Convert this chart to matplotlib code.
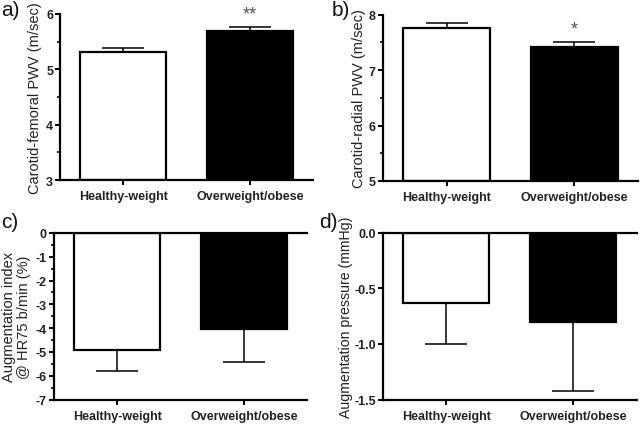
import matplotlib
matplotlib.use("Agg")
import matplotlib.pyplot as plt
from matplotlib.ticker import MultipleLocator

plt.rcParams['font.family'] = ['Liberation Sans', 'DejaVu Sans']

categories = ["Healthy-weight", "Overweight/obese"]

cf_pwv = [5.32, 5.685]
cf_err = [0.065, 0.08]

cr_pwv = [7.77, 7.42]
cr_err = [0.09, 0.09]

aix = [-4.9, -4.03]
aix_err = [0.91, 1.38]

ap = [-0.632, -0.80]
ap_err = [0.371, 0.625]

sig_a = ["", "**"]
sig_b = ["", "*"]

colors = ["white", "black"]

fig = plt.figure(figsize=(6.4, 4.27), dpi=100)

specs = [
    # rect, values, errs, direction, ylim, major, minor, ylabel, letter, sig, fmt, ylabel size, labelpad
    ([0.094, 0.576, 0.395, 0.389], cf_pwv, cf_err, 1, (3, 6), 1, 0.5,
     "Carotid-femoral PWV (m/sec)", "a)", sig_a, "{:.0f}", 10.5, 3),
    ([0.598, 0.574, 0.399, 0.389], cr_pwv, cr_err, 1, (5, 8), 1, 0.5,
     "Carotid-radial PWV (m/sec)", "b)", sig_b, "{:.0f}", 10.5, 2),
    ([0.084, 0.062, 0.396, 0.390], aix, aix_err, -1, (-7, 0), 1, 0.5,
     "Augmentation index\n@ HR75 b/min (%)", "c)", None, "{:.0f}", 10.5, 3),
    ([0.598, 0.062, 0.397, 0.391], ap, ap_err, -1, (-1.5, 0), 0.5, None,
     "Augmentation pressure (mmHg)", "d)", None, "{:.1f}", 10.2, 0.5),
]

letter_pos = [(0.002, 0.997), (0.518, 0.997), (0.002, 0.5), (0.499, 0.5)]

x = [0, 1]
for (rect, vals, errs, d, ylim, major, minor, ylabel, letter, sig, fmt, ysz, lpad), lp in zip(specs, letter_pos):
    ax = fig.add_axes(rect)
    base = ylim[0] if d > 0 else 0
    heights = [v - base for v in vals]
    ax.bar(x, heights, bottom=base, width=0.68, color=colors, edgecolor="black",
           linewidth=1.6, zorder=2)
    if d > 0:
        yerr = [[0, 0], errs]
    else:
        yerr = [errs, [0, 0]]
    ax.errorbar(x, vals, yerr=yerr, fmt="none", ecolor="black", elinewidth=1.1,
                capsize=15, capthick=1.1, zorder=1)
    ax.set_xlim(-0.5, 1.5)
    ax.set_ylim(*ylim)
    ax.yaxis.set_major_locator(MultipleLocator(major))
    if minor:
        ax.yaxis.set_minor_locator(MultipleLocator(minor))
    ax.set_yticks(ax.get_yticks())
    ax.set_yticklabels([fmt.format(t) for t in ax.get_yticks()])
    ax.set_ylim(*ylim)
    ax.set_xticks(x)
    ax.set_xticklabels(categories, fontweight="bold", fontsize=9.5, color="#222222")
    for s in ["top", "right"]:
        ax.spines[s].set_visible(False)
    for s in ["left", "bottom"]:
        ax.spines[s].set_linewidth(1.6)
    if d < 0:
        ax.axhline(0, color="black", linewidth=1.6, zorder=3, clip_on=False)
    ax.tick_params(axis="both", which="major", length=3.5, width=1.4, labelsize=9,
                   direction="out", pad=1.5)
    ax.tick_params(axis="y", which="minor", length=2.5, width=1.2)
    ax.tick_params(axis="x", pad=4)
    for lbl in ax.get_yticklabels():
        lbl.set_fontweight("bold")
        lbl.set_color("#222222")
    ax.set_ylabel(ylabel, fontsize=ysz, labelpad=lpad, color="#222222", linespacing=1.1)
    if sig:
        for xi, v, e, s in zip(x, vals, errs, sig):
            if s:
                ax.annotate(s, (xi, v + e), xytext=(0, 3), textcoords="offset points",
                            ha="center", va="bottom", fontsize=13, color="#555555")
    fig.text(lp[0], lp[1], letter, fontsize=15, ha="left", va="top", color="#111111")

fig.savefig("out.png", dpi=100)
